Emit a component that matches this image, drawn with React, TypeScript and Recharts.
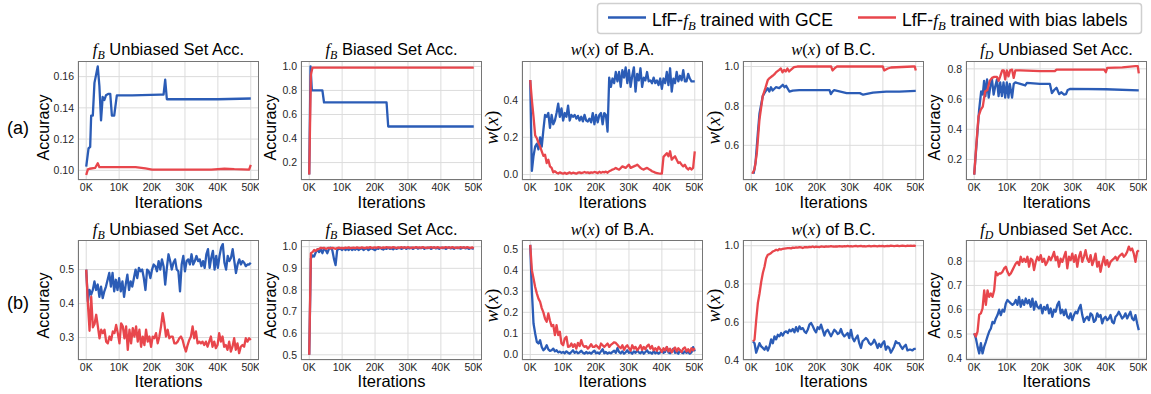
import React from 'react';
import { LineChart, Line, XAxis, YAxis, CartesianGrid } from 'recharts';

const BLUE = '#2b5cb6';
const RED = '#e8464c';
const SANS = '"Liberation Sans", Arial, Helvetica, sans-serif';
const SERIF = '"Liberation Serif", "Times New Roman", serif';

const X_TICKS = [0, 10000, 20000, 30000, 40000, 50000];
const X_DOMAIN = [-2500, 52500];

// ---- row (a) ----
const a1GceX = [0, 700, 1200, 1500, 2000, 2500, 3500, 4000, 4500, 5000, 5500, 6000, 6800, 7300, 7800, 8500, 9300, 14000, 22500, 23500, 24000, 24500, 25000, 40000, 50000];
const a1GceY = [0.1023, 0.114, 0.115, 0.135, 0.135, 0.156, 0.1665, 0.154, 0.132, 0.147, 0.145, 0.148, 0.149, 0.149, 0.135, 0.135, 0.148, 0.148, 0.1485, 0.1485, 0.158, 0.1455, 0.1455, 0.1455, 0.146];
const a1BiasX = [0, 500, 1000, 2700, 3500, 4000, 8000, 15000, 18000, 20000, 30000, 38000, 42000, 45000, 49500, 50000];
const a1BiasY = [0.097, 0.1006, 0.101, 0.1015, 0.1045, 0.102, 0.102, 0.102, 0.1012, 0.1005, 0.1005, 0.1005, 0.101, 0.1007, 0.1005, 0.1035];

const a2GceX = [0, 400, 800, 4000, 4500, 23500, 24000, 50000];
const a2GceY = [0.1, 1.0, 0.8, 0.8, 0.7, 0.7, 0.5, 0.5];
const a2BiasX = [0, 500, 1000, 50000];
const a2BiasY = [0.1, 0.93, 0.99, 0.99];

const a3Gce = [0.507, 0.02, 0.1, 0.15, 0.165, 0.135, 0.2, 0.15, 0.24, 0.32, 0.31, 0.33, 0.25, 0.32, 0.27, 0.29, 0.33, 0.38, 0.31, 0.355, 0.29, 0.33, 0.31, 0.37, 0.29, 0.32, 0.31, 0.32, 0.3, 0.315, 0.29, 0.31, 0.285, 0.32, 0.29, 0.285, 0.3, 0.28, 0.33, 0.27, 0.32, 0.28, 0.32, 0.33, 0.27, 0.33, 0.32, 0.23, 0.52, 0.47, 0.515, 0.49, 0.55, 0.5, 0.55, 0.47, 0.56, 0.52, 0.575, 0.49, 0.56, 0.47, 0.53, 0.575, 0.445, 0.54, 0.505, 0.57, 0.47, 0.52, 0.505, 0.55, 0.5, 0.505, 0.49, 0.52, 0.49, 0.505, 0.48, 0.515, 0.46, 0.515, 0.49, 0.55, 0.48, 0.57, 0.445, 0.515, 0.49, 0.55, 0.5, 0.53, 0.505, 0.56, 0.5, 0.5, 0.54, 0.515, 0.5, 0.5, 0.5];
const a3Bias = [0.507, 0.4, 0.31, 0.21, 0.195, 0.17, 0.15, 0.125, 0.1, 0.107, 0.062, 0.08, 0.044, 0.036, 0.012, 0.018, 0.01, 0.006, 0.012, 0.008, 0.005, 0.01, 0.004, 0.008, 0.012, 0.006, 0.01, 0.008, 0.005, 0.01, 0.012, 0.008, 0.01, 0.014, 0.01, 0.012, 0.008, 0.012, 0.01, 0.014, 0.012, 0.008, 0.015, 0.01, 0.014, 0.012, 0.016, 0.01, 0.018, 0.022, 0.027, 0.03, 0.036, 0.03, 0.027, 0.035, 0.044, 0.04, 0.036, 0.045, 0.053, 0.036, 0.04, 0.044, 0.048, 0.053, 0.045, 0.036, 0.03, 0.027, 0.032, 0.036, 0.03, 0.025, 0.018, 0.015, 0.01, 0.008, 0.006, 0.005, 0.005, 0.095, 0.105, 0.115, 0.098, 0.125, 0.08, 0.09, 0.098, 0.08, 0.062, 0.066, 0.053, 0.044, 0.053, 0.036, 0.027, 0.036, 0.027, 0.036, 0.125];

const a4GceX = [700, 1300, 2000, 2500, 3500, 4300, 5000, 5500, 6000, 6500, 7500, 8500, 9600, 10100, 10600, 11600, 12600, 14600, 18000, 23800, 24200, 24700, 25200, 29000, 33000, 34000, 37000, 41000, 45000, 50000];
const a4GceY = [0.456, 0.51, 0.66, 0.76, 0.85, 0.873, 0.89, 0.873, 0.895, 0.878, 0.895, 0.89, 0.907, 0.895, 0.902, 0.873, 0.878, 0.88, 0.88, 0.88, 0.86, 0.873, 0.88, 0.865, 0.865, 0.857, 0.868, 0.873, 0.873, 0.876];
const a4BiasX = [300, 1000, 1700, 2500, 3500, 4300, 5000, 5500, 6500, 7000, 7500, 8500, 9000, 9500, 10000, 10500, 11000, 11500, 13000, 14000, 24300, 24700, 25300, 26000, 40000, 40400, 41500, 42500, 49000, 49700, 50000];
const a4BiasY = [0.456, 0.477, 0.56, 0.73, 0.85, 0.89, 0.93, 0.94, 0.953, 0.96, 0.97, 0.983, 0.99, 0.97, 0.983, 0.975, 0.99, 0.975, 0.997, 1.0, 1.0, 0.98, 0.99, 1.0, 1.0, 0.98, 0.99, 0.995, 1.0, 1.0, 0.98];

const a5GceX = [0, 800, 1500, 2100, 2600, 3000, 3400, 3900, 4400, 4900, 5400, 5900, 6400, 6900, 7400, 7900, 8400, 8900, 9400, 9900, 10400, 10800, 11500, 12000, 12500, 14000, 15500, 16000, 20000, 23000, 23600, 24300, 25000, 25800, 26500, 27300, 27900, 28400, 29200, 40000, 50000];
const a5GceY = [0.1, 0.33, 0.53, 0.65, 0.63, 0.72, 0.62, 0.73, 0.61, 0.685, 0.73, 0.63, 0.685, 0.73, 0.62, 0.71, 0.62, 0.71, 0.61, 0.71, 0.61, 0.7, 0.61, 0.7, 0.71, 0.7, 0.69, 0.707, 0.7, 0.7, 0.64, 0.66, 0.675, 0.633, 0.645, 0.63, 0.633, 0.66, 0.667, 0.665, 0.658];
const a5BiasX = [0, 600, 1300, 2000, 2600, 3300, 4000, 4700, 5400, 6100, 6900, 7400, 7900, 8500, 9000, 9400, 9900, 10400, 10900, 11500, 12000, 12500, 14000, 20000, 24500, 25000, 39500, 40000, 40400, 45000, 49000, 49700, 50000];
const a5BiasY = [0.1, 0.285, 0.485, 0.53, 0.55, 0.65, 0.66, 0.72, 0.74, 0.747, 0.747, 0.72, 0.75, 0.79, 0.79, 0.73, 0.79, 0.75, 0.79, 0.795, 0.74, 0.79, 0.79, 0.785, 0.785, 0.795, 0.795, 0.778, 0.807, 0.81, 0.818, 0.818, 0.77];

// ---- row (b), logged every 500 iterations ----
const b1Gce = [0.5, 0.406, 0.44, 0.426, 0.44, 0.465, 0.44, 0.456, 0.42, 0.45, 0.416, 0.436, 0.45, 0.47, 0.49, 0.45, 0.49, 0.436, 0.47, 0.44, 0.475, 0.436, 0.465, 0.42, 0.456, 0.485, 0.44, 0.465, 0.45, 0.475, 0.5, 0.475, 0.505, 0.495, 0.5, 0.475, 0.44, 0.5, 0.495, 0.475, 0.5, 0.515, 0.51, 0.495, 0.525, 0.5, 0.53, 0.51, 0.456, 0.505, 0.545, 0.525, 0.5, 0.52, 0.53, 0.5, 0.495, 0.436, 0.515, 0.54, 0.495, 0.525, 0.53, 0.515, 0.545, 0.515, 0.525, 0.54, 0.525, 0.53, 0.51, 0.525, 0.505, 0.545, 0.56, 0.505, 0.535, 0.555, 0.5, 0.54, 0.505, 0.54, 0.565, 0.575, 0.52, 0.5, 0.54, 0.525, 0.535, 0.56, 0.525, 0.49, 0.515, 0.53, 0.515, 0.525, 0.52, 0.51, 0.515, 0.515, 0.52];
const b1Bias = [0.5, 0.4, 0.32, 0.42, 0.33, 0.34, 0.367, 0.333, 0.298, 0.323, 0.313, 0.323, 0.288, 0.283, 0.303, 0.293, 0.318, 0.313, 0.337, 0.313, 0.283, 0.342, 0.333, 0.298, 0.333, 0.264, 0.323, 0.283, 0.328, 0.303, 0.333, 0.288, 0.323, 0.273, 0.303, 0.278, 0.323, 0.288, 0.303, 0.273, 0.303, 0.298, 0.313, 0.283, 0.303, 0.333, 0.372, 0.342, 0.303, 0.323, 0.298, 0.303, 0.303, 0.283, 0.283, 0.288, 0.298, 0.303, 0.293, 0.273, 0.259, 0.278, 0.293, 0.303, 0.333, 0.298, 0.318, 0.283, 0.288, 0.283, 0.288, 0.278, 0.288, 0.273, 0.288, 0.303, 0.273, 0.288, 0.269, 0.278, 0.313, 0.288, 0.303, 0.273, 0.278, 0.264, 0.288, 0.259, 0.273, 0.298, 0.264, 0.283, 0.254, 0.273, 0.278, 0.273, 0.298, 0.288, 0.298, 0.293];

const b2Gce = [0.5, 0.945, 0.96, 0.955, 0.975, 0.988, 0.975, 0.99, 0.97, 0.99, 0.985, 0.97, 0.99, 0.995, 0.985, 0.945, 0.915, 0.985, 0.99, 0.99, 0.985, 0.992, 0.985, 0.99, 0.985, 0.993, 0.985, 0.99, 0.986, 0.993, 0.985, 0.99, 0.993, 0.985, 0.99, 0.993, 0.984, 0.99, 0.993, 0.988, 0.984, 0.993, 0.99, 0.995, 0.99, 0.987, 0.993, 0.99, 0.995, 0.99, 0.993, 0.988, 0.995, 0.99, 0.993, 0.995, 0.99, 0.993, 0.997, 0.99, 0.995, 0.992, 0.996, 0.99, 0.994, 0.997, 0.991, 0.995, 0.993, 0.997, 0.99, 0.995, 0.993, 0.996, 0.99, 0.994, 0.997, 0.992, 0.995, 0.99, 0.996, 0.993, 0.995, 0.99, 0.994, 0.997, 0.992, 0.995, 0.99, 0.996, 0.993, 0.995, 0.991, 0.994, 0.997, 0.992, 0.995, 0.99, 0.994, 0.992, 0.99];
const b2Bias = [0.5, 0.97, 0.975, 0.985, 0.98, 0.988, 0.99, 0.995, 0.993, 0.995, 0.99, 0.993, 0.995, 0.992, 0.995, 0.993, 0.99, 0.994, 0.996, 0.993, 0.995, 0.992, 0.996, 0.994, 0.997, 0.993, 0.995, 0.996, 0.993, 0.997, 0.995, 0.994, 0.997, 0.995, 0.993, 0.997, 0.995, 0.998, 0.994, 0.996, 0.997, 0.995, 0.998, 0.996, 0.994, 0.997, 0.995, 0.998, 0.996, 0.997, 0.995, 0.998, 0.996, 0.994, 0.997, 0.995, 0.998, 0.996, 0.997, 0.995, 0.998, 0.996, 0.994, 0.997, 0.995, 0.998, 0.996, 0.997, 0.995, 0.998, 0.996, 0.994, 0.997, 0.995, 0.998, 0.996, 0.997, 0.995, 0.998, 0.996, 0.994, 0.997, 0.995, 0.998, 0.996, 0.997, 0.995, 0.998, 0.996, 0.994, 0.997, 0.995, 0.998, 0.996, 0.997, 0.995, 0.998, 0.996, 0.994, 0.997, 0.993];

const b3Gce = [0.52, 0.3, 0.147, 0.1, 0.06, 0.052, 0.068, 0.036, 0.02, 0.028, 0.044, 0.024, 0.017, 0.02, 0.028, 0.015, 0.02, 0.01, 0.014, 0.008, 0.012, 0.006, 0.015, 0.008, 0.004, 0.012, 0.02, 0.008, 0.014, 0.006, 0.01, 0.018, 0.008, 0.004, 0.012, 0.006, 0.01, 0.004, 0.012, 0.018, 0.006, 0.01, 0.004, 0.015, 0.025, 0.006, 0.012, 0.004, 0.01, 0.006, 0.012, 0.018, 0.008, 0.03, 0.012, 0.006, 0.015, 0.004, 0.01, 0.02, 0.008, 0.012, 0.004, 0.015, 0.008, 0.02, 0.01, 0.006, 0.015, 0.004, 0.012, 0.02, 0.008, 0.01, 0.004, 0.015, 0.006, 0.012, 0.004, 0.01, 0.02, 0.008, 0.012, 0.035, 0.01, 0.006, 0.015, 0.028, 0.008, 0.012, 0.004, 0.02, 0.01, 0.006, 0.015, 0.008, 0.012, 0.004, 0.01, 0.035, 0.015];
const b3Bias = [0.52, 0.4, 0.36, 0.32, 0.29, 0.265, 0.25, 0.22, 0.2, 0.17, 0.155, 0.195, 0.16, 0.135, 0.14, 0.092, 0.139, 0.092, 0.108, 0.052, 0.044, 0.076, 0.084, 0.036, 0.038, 0.052, 0.036, 0.049, 0.028, 0.055, 0.04, 0.068, 0.044, 0.036, 0.04, 0.028, 0.036, 0.049, 0.036, 0.036, 0.044, 0.036, 0.028, 0.052, 0.044, 0.036, 0.044, 0.052, 0.036, 0.046, 0.052, 0.058, 0.055, 0.046, 0.036, 0.03, 0.044, 0.022, 0.036, 0.044, 0.03, 0.018, 0.044, 0.028, 0.036, 0.02, 0.03, 0.044, 0.022, 0.036, 0.025, 0.04, 0.047, 0.028, 0.04, 0.02, 0.03, 0.018, 0.036, 0.025, 0.012, 0.03, 0.02, 0.036, 0.015, 0.028, 0.01, 0.025, 0.033, 0.015, 0.03, 0.02, 0.012, 0.028, 0.034, 0.015, 0.025, 0.012, 0.03, 0.02, 0.03];

const b4Gce = [0.5, 0.49, 0.44, 0.465, 0.49, 0.473, 0.465, 0.456, 0.473, 0.452, 0.473, 0.51, 0.49, 0.526, 0.51, 0.534, 0.526, 0.543, 0.53, 0.547, 0.552, 0.543, 0.56, 0.552, 0.564, 0.547, 0.574, 0.552, 0.578, 0.564, 0.569, 0.552, 0.543, 0.56, 0.587, 0.596, 0.58, 0.56, 0.547, 0.574, 0.564, 0.587, 0.56, 0.53, 0.552, 0.56, 0.543, 0.526, 0.543, 0.56, 0.552, 0.538, 0.543, 0.564, 0.538, 0.526, 0.534, 0.543, 0.517, 0.56, 0.517, 0.5, 0.517, 0.53, 0.49, 0.465, 0.5, 0.508, 0.517, 0.508, 0.49, 0.482, 0.49, 0.508, 0.49, 0.465, 0.487, 0.47, 0.49, 0.5, 0.456, 0.473, 0.465, 0.44, 0.456, 0.473, 0.5, 0.49, 0.49, 0.473, 0.46, 0.473, 0.482, 0.452, 0.456, 0.456, 0.452, 0.46, 0.46];
const b4Bias = [0.5, 0.508, 0.61, 0.7, 0.75, 0.81, 0.857, 0.89, 0.935, 0.953, 0.956, 0.962, 0.97, 0.974, 0.979, 0.976, 0.983, 0.98, 0.984, 0.985, 0.986, 0.987, 0.988, 0.986, 0.99, 0.989, 0.991, 0.99, 0.993, 0.991, 0.988, 0.992, 0.993, 0.991, 0.994, 0.993, 0.996, 0.992, 0.995, 0.994, 0.993, 0.996, 0.995, 0.994, 0.997, 0.995, 0.996, 0.998, 0.996, 0.995, 0.997, 0.996, 0.998, 0.997, 0.996, 0.998, 0.997, 0.999, 0.997, 0.998, 0.996, 0.998, 0.999, 0.997, 0.998, 0.999, 0.997, 0.998, 0.996, 0.998, 0.999, 0.997, 0.998, 0.999, 0.998, 0.997, 0.999, 0.998, 0.999, 0.997, 0.998, 0.999, 0.998, 1.0, 0.999, 0.998, 0.999, 1.0, 0.998, 0.999, 1.0, 0.999, 0.998, 1.0, 0.999, 1.0, 0.999, 1.0, 0.998];

const b5Gce = [0.503, 0.482, 0.448, 0.42, 0.462, 0.42, 0.448, 0.468, 0.49, 0.51, 0.523, 0.55, 0.544, 0.564, 0.578, 0.6, 0.578, 0.6, 0.592, 0.626, 0.64, 0.633, 0.626, 0.62, 0.626, 0.64, 0.62, 0.653, 0.612, 0.64, 0.62, 0.646, 0.626, 0.64, 0.612, 0.646, 0.6, 0.633, 0.612, 0.605, 0.62, 0.585, 0.612, 0.6, 0.62, 0.585, 0.605, 0.571, 0.6, 0.592, 0.62, 0.633, 0.585, 0.6, 0.578, 0.6, 0.571, 0.564, 0.585, 0.557, 0.578, 0.592, 0.585, 0.605, 0.62, 0.578, 0.55, 0.564, 0.571, 0.557, 0.585, 0.578, 0.55, 0.557, 0.585, 0.571, 0.578, 0.544, 0.564, 0.571, 0.557, 0.564, 0.578, 0.55, 0.544, 0.571, 0.578, 0.592, 0.578, 0.564, 0.571, 0.585, 0.564, 0.578, 0.592, 0.564, 0.557, 0.578, 0.544, 0.516];
const b5Bias = [0.503, 0.49, 0.51, 0.58, 0.585, 0.605, 0.68, 0.62, 0.68, 0.653, 0.667, 0.653, 0.68, 0.756, 0.742, 0.749, 0.749, 0.756, 0.77, 0.777, 0.756, 0.742, 0.749, 0.763, 0.777, 0.79, 0.797, 0.784, 0.818, 0.797, 0.81, 0.797, 0.818, 0.777, 0.81, 0.804, 0.763, 0.797, 0.818, 0.804, 0.825, 0.797, 0.81, 0.784, 0.797, 0.818, 0.804, 0.818, 0.838, 0.804, 0.818, 0.777, 0.81, 0.797, 0.818, 0.838, 0.77, 0.818, 0.804, 0.831, 0.797, 0.825, 0.777, 0.818, 0.838, 0.797, 0.818, 0.845, 0.81, 0.797, 0.825, 0.784, 0.804, 0.831, 0.777, 0.797, 0.756, 0.79, 0.818, 0.784, 0.804, 0.777, 0.797, 0.804, 0.81, 0.818, 0.804, 0.818, 0.825, 0.831, 0.818, 0.825, 0.838, 0.86, 0.845, 0.852, 0.831, 0.797, 0.838, 0.845];

// y axis ranges and tick labels
const yDomains = [
  [0.0938, 0.170], [0.055, 1.045], [-0.029, 0.609], [0.424, 1.028], [0.064, 0.852],
  [0.234, 0.587], [0.476, 1.031], [-0.026, 0.543], [0.402, 1.03], [0.393, 0.887],
];
const yTicks = [
  [0.1, 0.12, 0.14, 0.16], [0.2, 0.4, 0.6, 0.8, 1.0], [0.0, 0.2, 0.4], [0.6, 0.8, 1.0], [0.2, 0.4, 0.6, 0.8],
  [0.3, 0.4, 0.5], [0.5, 0.6, 0.7, 0.8, 0.9, 1.0], [0.0, 0.1, 0.2, 0.3, 0.4, 0.5], [0.4, 0.6, 0.8, 1.0], [0.4, 0.5, 0.6, 0.7, 0.8],
];
const yDigits = [2, 1, 1, 1, 1, 1, 1, 1, 1, 1];

type Pt = { x: number; y: number };
const pts = (xs: number[], ys: number[]): Pt[] => ys.map((y, i) => ({ x: xs[i], y }));
const even = (ys: number[], start = 0, end = 50000): Pt[] =>
  ys.map((y, i) => ({ x: start + (i * (end - start)) / (ys.length - 1), y }));

const gceSeries: Pt[][] = [
  pts(a1GceX, a1GceY), pts(a2GceX, a2GceY), even(a3Gce), pts(a4GceX, a4GceY), pts(a5GceX, a5GceY),
  even(b1Gce), even(b2Gce), even(b3Gce), even(b4Gce, 500), even(b5Gce),
];
const biasSeries: Pt[][] = [
  pts(a1BiasX, a1BiasY), pts(a2BiasX, a2BiasY), even(a3Bias), pts(a4BiasX, a4BiasY), pts(a5BiasX, a5BiasY),
  even(b1Bias), even(b2Bias), even(b3Bias), even(b4Bias, 500), even(b5Bias),
];

// layout
const PLOT_W = 181;
const COL_LEFT = [78, 301, 522, 743, 966];
const ROW_TOP = [61, 240];
const ROW_H = [119, 120];
const YLABEL_X = [48.5, 276, 498, 720, 940];
const AXW = 40;
const AXH = 24;

const fmtK = (v: number) => `${Math.round(v / 1000)}K`;

function Panel({ idx }: { idx: number }) {
  const col = idx % 5;
  const row = Math.floor(idx / 5);
  const left = COL_LEFT[col];
  const top = ROW_TOP[row];
  const h = ROW_H[row];
  const tickStyle = { fontSize: 10.5, fill: '#262626', fontFamily: SANS };
  return (
    <div style={{ position: 'absolute', left: left - AXW, top }}>
      <LineChart width={PLOT_W + AXW} height={h + AXH} margin={{ top: 0, right: 0, bottom: 0, left: 0 }}>
        <CartesianGrid stroke="#dcdcdc" strokeWidth={1} />
        <XAxis
          type="number"
          dataKey="x"
          domain={X_DOMAIN}
          ticks={X_TICKS}
          tickFormatter={fmtK}
          height={AXH}
          allowDataOverflow
          axisLine={false}
          tickLine={false}
          tickSize={0}
          tickMargin={4}
          tick={tickStyle}
          interval={0}
        />
        <YAxis
          type="number"
          domain={yDomains[idx]}
          ticks={yTicks[idx]}
          tickFormatter={(v: number) => v.toFixed(yDigits[idx])}
          width={AXW}
          allowDataOverflow
          axisLine={false}
          tickLine={false}
          tickSize={0}
          tickMargin={4}
          tick={tickStyle}
          interval={0}
        />
        <Line data={gceSeries[idx]} dataKey="y" type="linear" stroke={BLUE} strokeWidth={2.3} dot={false} isAnimationActive={false} strokeLinejoin="round" />
        <Line data={biasSeries[idx]} dataKey="y" type="linear" stroke={RED} strokeWidth={2.3} dot={false} isAnimationActive={false} strokeLinejoin="round" />
      </LineChart>
      <div
        style={{
          position: 'absolute', left: AXW, top: 0, width: PLOT_W, height: h,
          border: '1px solid #767676', boxSizing: 'border-box', pointerEvents: 'none',
        }}
      />
    </div>
  );
}

const fSub = (sub: string) => (
  <>
    <tspan fontFamily={SERIF} fontStyle="italic">f</tspan>
    <tspan fontFamily={SERIF} fontStyle="italic" fontSize="0.72em" dy={4}>{sub}</tspan>
  </>
);
const wx = (
  <tspan fontFamily={SERIF}>
    <tspan fontStyle="italic">w</tspan>(<tspan fontStyle="italic">x</tspan>)
  </tspan>
);

function Title({ col, row }: { col: number; row: number }) {
  const cx = COL_LEFT[col] + PLOT_W / 2;
  const y = row === 0 ? 55 : 234.5;
  let body: React.ReactNode;
  if (col === 0) body = <>{fSub('B')}<tspan dy={-4}> Unbiased Set Acc.</tspan></>;
  else if (col === 1) body = <>{fSub('B')}<tspan dy={-4}> Biased Set Acc.</tspan></>;
  else if (col === 2) body = <>{wx}<tspan> of B.A.</tspan></>;
  else if (col === 3) body = <>{wx}<tspan> of B.C.</tspan></>;
  else body = <>{fSub('D')}<tspan dy={-4}> Unbiased Set Acc.</tspan></>;
  return (
    <text x={cx} y={y} textAnchor="middle" fontFamily={SANS} fontSize={16.5} fill="#000">{body}</text>
  );
}

function YLabel({ col, row }: { col: number; row: number }) {
  const x = YLABEL_X[col];
  const y = row === 0 ? 127.5 : 305.5;
  const isW = col === 2 || col === 3;
  return (
    <text
      transform={`translate(${x},${y}) rotate(-90)`}
      textAnchor="middle"
      fontFamily={SANS}
      fontSize={isW ? 19 : 16}
      fill="#000"
    >
      {isW ? wx : 'Accuracy'}
    </text>
  );
}

export default function App() {
  const idxs = [0, 1, 2, 3, 4, 5, 6, 7, 8, 9];
  return (
    <div style={{ position: 'absolute', left: 0, top: 0, width: 1151, height: 394, background: '#fff', overflow: 'hidden' }}>
      {idxs.map((i) => <Panel key={i} idx={i} />)}
      <svg width={1151} height={394} style={{ position: 'absolute', left: 0, top: 0, pointerEvents: 'none' }}>
        {/* legend */}
        <rect x={597.5} y={3.5} width={544} height={30} rx={3} fill="#fff" stroke="#cfcfcf" strokeWidth={1.5} />
        <line x1={608} y1={17.5} x2={646} y2={17.5} stroke={BLUE} strokeWidth={2.5} />
        <text x={652} y={25.5} fontFamily={SANS} fontSize={17.5} fill="#000">
          LfF-{fSub('B')}<tspan dy={-4}> trained with GCE</tspan>
        </text>
        <line x1={858} y1={17.5} x2={896} y2={17.5} stroke={RED} strokeWidth={2.5} />
        <text x={902} y={25.5} fontFamily={SANS} fontSize={17.5} fill="#000">
          LfF-{fSub('B')}<tspan dy={-4}> trained with bias labels</tspan>
        </text>
        {/* row tags */}
        <text x={18} y={134} textAnchor="middle" fontFamily={SANS} fontSize={18} fill="#000">(a)</text>
        <text x={18} y={309} textAnchor="middle" fontFamily={SANS} fontSize={18} fill="#000">(b)</text>
        {[0, 1].map((row) =>
          [0, 1, 2, 3, 4].map((col) => (
            <React.Fragment key={`${row}-${col}`}>
              <Title col={col} row={row} />
              <YLabel col={col} row={row} />
              <text
                x={COL_LEFT[col] + PLOT_W / 2}
                y={row === 0 ? 208 : 387}
                textAnchor="middle"
                fontFamily={SANS}
                fontSize={16.5}
                fill="#000"
              >
                Iterations
              </text>
            </React.Fragment>
          ))
        )}
      </svg>
    </div>
  );
}
